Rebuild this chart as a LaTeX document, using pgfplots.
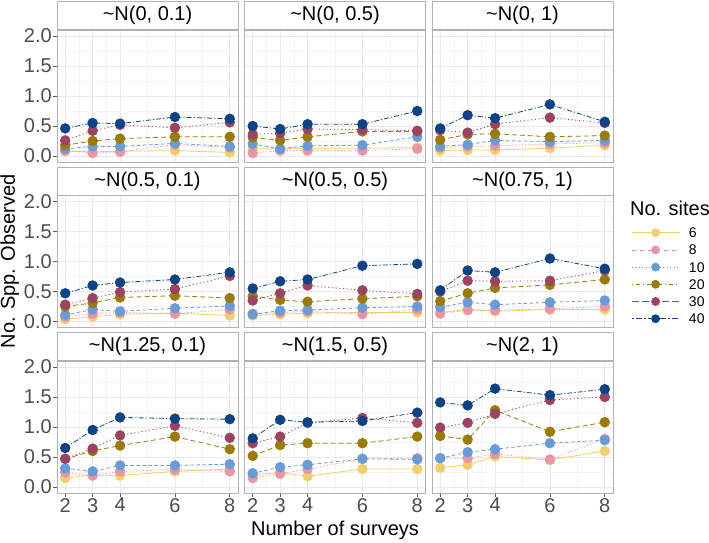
\documentclass[border=0pt]{standalone}
\usepackage{pgfplots}
\usepackage{pgfplotstable}
\pgfplotsset{compat=1.18}
\usepgfplotslibrary{groupplots}
\usepackage{fontspec}
\setmainfont{Liberation Sans}

\definecolor{c6}{HTML}{F0CF6E}
\definecolor{c8}{HTML}{E995A5}
\definecolor{c10}{HTML}{6B9BD6}
\definecolor{c20}{HTML}{9A7B0A}
\definecolor{c30}{HTML}{9B4460}
\definecolor{c40}{HTML}{0D4384}

\pgfplotsset{
  base/.style={line width=0.8pt, mark=*, mark size=4.8pt},
  s6/.style={base, c6, solid, mark options={solid, draw=none, fill=c6}},
  s8/.style={base, c8, dash pattern=on 1.2pt off 2.2pt, mark options={solid, draw=none, fill=c8}},
  s10/.style={base, c10, dash pattern=on 3.5pt off 2.5pt, mark options={solid, draw=none, fill=c10}},
  s20/.style={base, c20, dash pattern=on 5pt off 3pt, mark options={solid, draw=none, fill=c20}},
  s30/.style={base, c30, dash pattern=on 1.2pt off 2.5pt, mark options={solid, draw=none, fill=c30}},
  s40/.style={base, c40, dash pattern=on 5pt off 2pt on 1.2pt off 2pt, mark options={solid, draw=none, fill=c40}},
  lbase/.style={line width=0.8pt, mark=*, mark size=4pt},
}

% columns: x, a=6, b=8, c=10, d=20, e=30, f=40 sites
\pgfplotstableread{
x a b c d e f
2 0.08 0.09 0.12 0.18 0.26 0.46
3 0.07 0.05 0.16 0.25 0.42 0.55
4 0.08 0.07 0.16 0.29 0.52 0.54
6 0.09 0.19 0.21 0.32 0.47 0.65
8 0.06 0.14 0.16 0.32 0.56 0.62
}\pA
\pgfplotstableread{
x a b c d e f
2 0.12 0.05 0.20 0.31 0.36 0.50
3 0.12 0.09 0.12 0.26 0.38 0.45
4 0.13 0.09 0.17 0.32 0.45 0.53
6 0.13 0.09 0.18 0.41 0.44 0.53
8 0.14 0.12 0.32 0.41 0.42 0.75
}\pB
\pgfplotstableread{
x a b c d e f
2 0.09 0.14 0.16 0.27 0.43 0.46
3 0.10 0.16 0.19 0.36 0.39 0.68
4 0.10 0.17 0.26 0.37 0.53 0.63
6 0.13 0.20 0.24 0.32 0.64 0.86
8 0.18 0.22 0.26 0.34 0.55 0.57
}\pC
\pgfplotstableread{
x a b c d e f
2 0.04 0.08 0.11 0.25 0.28 0.47
3 0.08 0.13 0.20 0.31 0.39 0.60
4 0.12 0.15 0.17 0.40 0.49 0.65
6 0.14 0.13 0.22 0.43 0.54 0.70
8 0.10 0.20 0.26 0.39 0.76 0.82
}\pD
\pgfplotstableread{
x a b c d e f
2 0.10 0.13 0.12 0.42 0.35 0.55
3 0.12 0.15 0.18 0.36 0.47 0.67
4 0.14 0.17 0.19 0.33 0.60 0.70
6 0.15 0.12 0.23 0.38 0.52 0.93
8 0.15 0.20 0.25 0.42 0.46 0.96
}\pE
\pgfplotstableread{
x a b c d e f
2 0.15 0.13 0.24 0.34 0.50 0.52
3 0.20 0.19 0.32 0.47 0.68 0.85
4 0.17 0.19 0.28 0.56 0.67 0.82
6 0.20 0.21 0.32 0.61 0.68 1.05
8 0.20 0.25 0.35 0.70 0.85 0.88
}\pF
\pgfplotstableread{
x a b c d e f
2 0.15 0.24 0.31 0.47 0.47 0.65
3 0.20 0.19 0.26 0.60 0.64 0.95
4 0.19 0.26 0.36 0.69 0.86 1.16
6 0.26 0.29 0.36 0.84 1.02 1.14
8 0.30 0.26 0.38 0.63 0.82 1.13
}\pG
\pgfplotstableread{
x a b c d e f
2 0.20 0.15 0.23 0.52 0.73 0.81
3 0.24 0.22 0.33 0.70 0.84 1.12
4 0.18 0.30 0.37 0.73 1.07 1.08
6 0.30 0.47 0.47 0.73 1.15 1.10
8 0.30 0.48 0.46 0.84 1.07 1.24
}\pH
\pgfplotstableread{
x a b c d e f
2 0.32 0.48 0.48 0.85 0.99 1.41
3 0.37 0.48 0.58 0.79 1.07 1.36
4 0.51 0.55 0.63 1.28 1.22 1.64
6 0.45 0.46 0.73 0.92 1.45 1.53
8 0.60 0.80 0.78 1.08 1.50 1.63
}\pI

\newcommand{\drawpanel}[1]{%
  \addplot[s6, forget plot] table[x=x,y=a]{#1};
  \addplot[s8, forget plot] table[x=x,y=b]{#1};
  \addplot[s10, forget plot] table[x=x,y=c]{#1};
  \addplot[s20, forget plot] table[x=x,y=d]{#1};
  \addplot[s30, forget plot] table[x=x,y=e]{#1};
  \addplot[s40, forget plot] table[x=x,y=f]{#1};
}

\begin{document}
\begin{tikzpicture}
\begin{groupplot}[
  group style={group size=3 by 3, horizontal sep=6.5pt, vertical sep=33.5pt,
    xticklabels at=edge bottom, yticklabels at=edge left},
  width=181pt, height=132pt, scale only axis,
  xmin=1.7, xmax=8.3, ymin=-0.1, ymax=2.1,
  xtick={2,3,4,6,8}, ytick={0,0.5,1,1.5,2},
  minor xtick={2.5,3.5,5,7}, minor ytick={0.25,0.75,1.25,1.75},
  grid=both,
  major grid style={gray!17, line width=0.55pt},
  minor grid style={gray!9, line width=0.3pt},
  axis line style={gray!60, line width=0.6pt},
  tick align=outside, xtick pos=bottom, ytick pos=left,
  major tick length=3.5pt, minor tick length=0pt,
  tick style={black!65, line width=0.6pt},
  /pgf/number format/assume math mode=true,
  ticklabel style={font=\fontsize{20}{20}\selectfont, text=black!70, inner sep=1.5pt},
  yticklabel style={/pgf/number format/.cd, fixed, fixed zerofill, precision=1},
  every axis title shift=0pt,
  title style={at={(0.5,1)}, anchor=south, yshift=0pt, draw=gray!60, fill=white, line width=0.6pt,
    minimum width=181pt, minimum height=28pt, inner sep=0pt,
    font=\fontsize{20}{20}\selectfont},
  label style={font=\fontsize{20}{20}\selectfont},
  xlabel style={yshift=-4pt},
  legend image code/.code={\draw[mark repeat=2, mark phase=2, #1] plot coordinates {(0pt,0pt) (24pt,0pt) (48pt,0pt)};},
]
\nextgroupplot[title={\textasciitilde N(0, 0.1)}, xtick style={draw=none}]
\drawpanel{\pA}
\nextgroupplot[title={\textasciitilde N(0, 0.5)}, xtick style={draw=none}, ytick style={draw=none}]
\drawpanel{\pB}
\nextgroupplot[title={\textasciitilde N(0, 1)}, xtick style={draw=none}, ytick style={draw=none}]
\drawpanel{\pC}
\nextgroupplot[title={\textasciitilde N(0.5, 0.1)}, xtick style={draw=none}, ylabel={No. Spp. Observed}]
\drawpanel{\pD}
\nextgroupplot[title={\textasciitilde N(0.5, 0.5)}, xtick style={draw=none}, ytick style={draw=none}]
\drawpanel{\pE}
\nextgroupplot[title={\textasciitilde N(0.75, 1)}, xtick style={draw=none}, ytick style={draw=none},
  legend cell align=left,
  legend style={draw=none, fill=none, at={(1,1)}, anchor=north west, xshift=18pt, yshift=-32pt,
    font=\fontsize{14}{14}\selectfont, row sep=7.2pt, column sep=9pt, inner sep=0pt,
    nodes={inner sep=0pt, text height=10pt, text depth=0pt}}]
\drawpanel{\pF}
\addlegendimage{lbase, c6, solid, mark options={solid, draw=none, fill=c6}}
\addlegendentry{6}
\addlegendimage{lbase, c8, dash pattern=on 4pt off 4pt, mark options={solid, draw=none, fill=c8}}
\addlegendentry{8}
\addlegendimage{lbase, c10, dash pattern=on 1pt off 2.5pt, mark options={solid, draw=none, fill=c10}}
\addlegendentry{10}
\addlegendimage{lbase, c20, dash pattern=on 1pt off 3pt on 4pt off 3pt, mark options={solid, draw=none, fill=c20}}
\addlegendentry{20}
\addlegendimage{lbase, c30, dash pattern=on 7pt off 3pt, mark options={solid, draw=none, fill=c30}}
\addlegendentry{30}
\addlegendimage{lbase, c40, dash pattern=on 2pt off 2pt on 6pt off 2pt, mark options={solid, draw=none, fill=c40}}
\addlegendentry{40}
\nextgroupplot[title={\textasciitilde N(1.25, 0.1)}]
\drawpanel{\pG}
\nextgroupplot[title={\textasciitilde N(1.5, 0.5)}, ytick style={draw=none}, xlabel={Number of surveys}]
\drawpanel{\pH}
\nextgroupplot[title={\textasciitilde N(2, 1)}, ytick style={draw=none}]
\drawpanel{\pI}
\end{groupplot}
\node[anchor=west, inner sep=0pt, font=\fontsize{20}{20}\selectfont] at ([xshift=17pt,yshift=-12.5pt]group c3r2.north east) {No. sites};
\pgfresetboundingbox
\path ([shift={(-57pt,30pt)}]group c1r1.north west) rectangle ++(709pt,-542pt);
\end{tikzpicture}
\end{document}
